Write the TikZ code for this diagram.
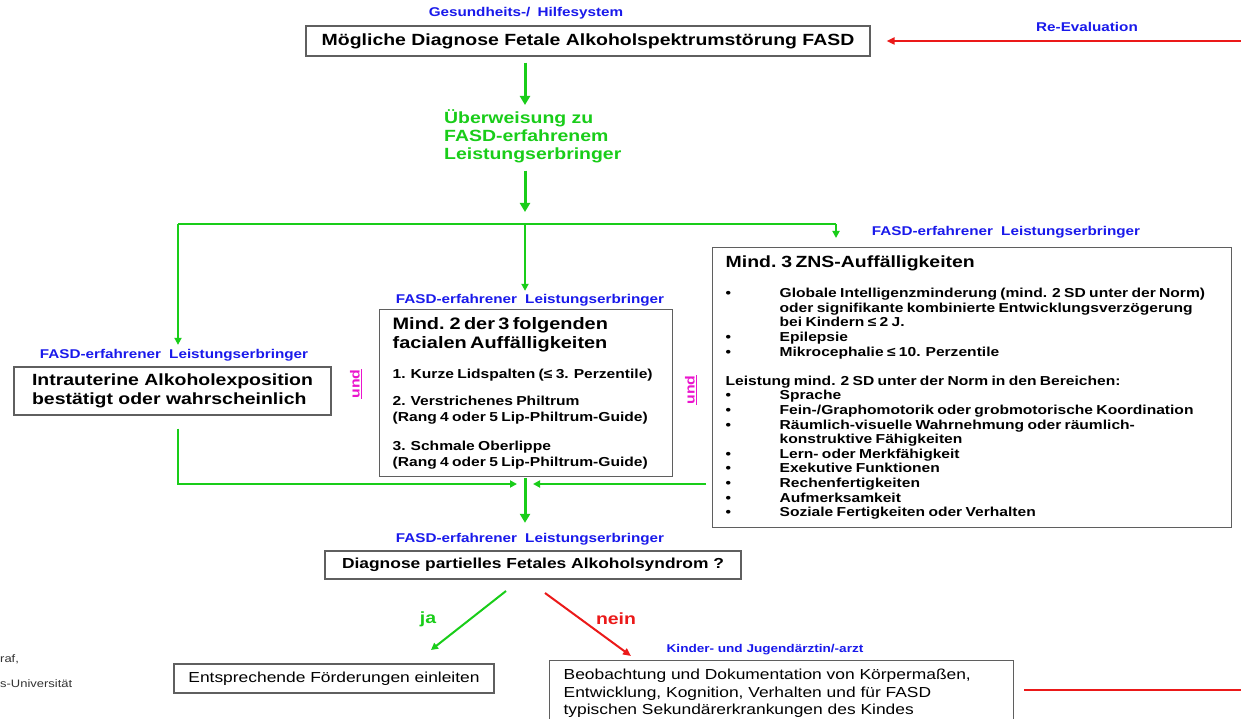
\documentclass[tikz,border=0pt]{standalone}
\usepackage{fontspec}
\setmainfont{Liberation Sans}[FakeStretch=1.2]
\usetikzlibrary{arrows.meta,calc}
\setlength\parindent{0pt}
\setlength\parskip{0pt}
\definecolor{lblue}{RGB}{25,25,235}
\definecolor{lgreen}{RGB}{25,205,25}
\definecolor{lred}{RGB}{235,25,25}
\definecolor{lmag}{RGB}{235,20,205}
\definecolor{lgray}{RGB}{95,95,95}
\newcommand\fsz[2]{\fontsize{#1}{#2}\selectfont}
\newcommand\bul{\makebox[54pt][l]{\textbullet}}
\newcommand\ind{\hspace*{54pt}}
\begin{document}
\begin{tikzpicture}[x=1pt,y=-1pt,
  box/.style={draw=lgray, line width=1.3pt, fill=white, inner sep=0pt},
  blab/.style={text=lblue, inner sep=0pt, font=\fsz{12.7}{15}\bfseries},
  gtext/.style={text=lgreen, inner sep=0pt, font=\fsz{16.2}{18}\bfseries},
  garrowT/.style={draw=lgreen, line width=3pt, -{Triangle[length=9pt,width=10pt]}},
  garrow/.style={draw=lgreen, line width=2pt, -{Triangle[length=7pt,width=7pt]}},
  gline/.style={draw=lgreen, line width=2pt},
  rarrow/.style={draw=lred, line width=2pt, -{Triangle[length=8pt,width=7pt]}},
  rline/.style={draw=lred, line width=2pt},
  undlab/.style={text=lmag, inner sep=0pt, rotate=90, font=\fsz{13.2}{15}\bfseries}]
\clip (0,0) rectangle (1241,719);
\fill[white] (0,0) rectangle (1241,719);

% axis coordinates
\coordinate (cx) at (525,0);
\coordinate (split) at (525,224);
\coordinate (bl) at (178,224);
\coordinate (br) at (836,224);
\coordinate (mj) at (525,484);

% top
\node[blab] (lgs) at (526,13) {Gesundheits-/\hspace{3pt} Hilfesystem};
\node[box, minimum width=564pt, minimum height=30pt, font=\fsz{16.2}{19}\bfseries] (top) at (588,41)
  {Mögliche Diagnose Fetale Alkoholspektrumstörung FASD};
\node[blab] (lre) at (1087,27) {Re-Evaluation};
\coordinate (reR) at (1241,41);
\draw[rarrow] (reR) -- ([xshift=16pt]top.east);

\node[gtext, anchor=north west, align=left] (ueb) at (444,109)
  {Überweisung zu\\FASD-erfahrenem\\Leistungserbringer};
\draw[garrowT] ([yshift=-6pt]top.south -| cx) -- ([yshift=4pt]ueb.north -| cx);
\draw[garrowT] ([yshift=-8pt]ueb.south -| cx) -- ([yshift=12pt]split);

% branches
\node[blab] (lright) at (1006,232) {FASD-erfahrener\hspace{4pt} Leistungserbringer};
\node[blab] (lmid) at (530,300) {FASD-erfahrener\hspace{4pt} Leistungserbringer};
\node[blab] (lleft) at (174,355) {FASD-erfahrener\hspace{4pt} Leistungserbringer};

\node[box, anchor=north west, minimum width=519pt, minimum height=280pt,
      text width=493pt, inner xsep=13pt, align=left] (rbox) at (712,247) {%
{\fsz{16.2}{19}\bfseries Mind. 3 ZNS-Auffälligkeiten\par}
\vspace{15.4pt}
{\fsz{13}{14.6}\bfseries
\bul Globale Intelligenzminderung (mind. 2 SD unter der Norm)\par
\ind oder signifikante kombinierte Entwicklungsverzögerung\par
\ind bei Kindern ≤ 2 J.\par
\bul Epilepsie\par
\bul Mikrocephalie ≤ 10. Perzentile\par
\vspace{14.6pt}
Leistung mind. 2 SD unter der Norm in den Bereichen:\par
\bul Sprache\par
\bul Fein-/Graphomotorik oder grobmotorische Koordination\par
\bul Räumlich-visuelle Wahrnehmung oder räumlich-\par
\ind konstruktive Fähigkeiten\par
\bul Lern- oder Merkfähigkeit\par
\bul Exekutive Funktionen\par
\bul Rechenfertigkeiten\par
\bul Aufmerksamkeit\par
\bul Soziale Fertigkeiten oder Verhalten\par}};

\node[box, anchor=north west, minimum width=293pt, minimum height=167pt,
      text width=267pt, inner xsep=13pt, align=left] (mbox) at (379,309) {%
{\fsz{16.6}{19}\bfseries Mind. 2 der 3 folgenden\par facialen Auffälligkeiten\par}
\vspace{14pt}
{\fsz{13}{16}\bfseries 1. Kurze Lidspalten (≤ 3. Perzentile)\par}
\vspace{11pt}
{\fsz{13}{16}\bfseries 2. Verstrichenes Philtrum\par (Rang 4 oder 5 Lip-Philtrum-Guide)\par}
\vspace{13pt}
{\fsz{13}{16}\bfseries 3. Schmale Oberlippe\par (Rang 4 oder 5 Lip-Philtrum-Guide)\par}};

\node[box, minimum width=317pt, minimum height=48pt, align=left, font=\fsz{16.2}{19}\bfseries] (lbox) at (172.5,391)
  {Intrauterine Alkoholexposition\\bestätigt oder wahrscheinlich};

\node[undlab] (und1) at (356,384) {\underline{und}};
\node[undlab] (und2) at (691,390) {\underline{und}};

\draw[gline] (bl) -- (br);
\draw[garrow] (bl) -- ([yshift=4pt]lleft.north -| bl);
\draw[garrow] (split) -- ([yshift=3pt]lmid.north -| split);
\draw[garrow] (br) -- ([yshift=9pt]rbox.north -| br);

% merge
\draw[garrow] ([yshift=-13pt]lbox.south -| bl) |- ([xshift=-8pt]mj);
\draw[garrow] ([xshift=-6pt]rbox.west |- mj) -- ([xshift=8pt]mj);

\node[blab] (lbot) at (530,539) {FASD-erfahrener\hspace{4pt} Leistungserbringer};
\draw[garrowT] ([yshift=-1pt]mbox.south -| cx) -- ([yshift=10pt]lbot.north -| cx);

\node[box, minimum width=416pt, minimum height=28pt, font=\fsz{14.5}{17}\bfseries] (diag) at (533,565)
  {Diagnose partielles Fetales Alkoholsyndrom ?};

% ja / nein
\coordinate (jaS) at (506,591);
\coordinate (jaE) at (431,650);
\coordinate (neS) at (545,593);
\coordinate (neE) at (631,656);
\draw[garrow] (jaS) -- (jaE);
\draw[rarrow] (neS) -- (neE);
\node[text=lgreen, inner sep=0pt, font=\fsz{16.2}{18}\bfseries] (ja) at (428,619) {ja};
\node[text=lred, inner sep=0pt, font=\fsz{16.2}{18}\bfseries] (nein) at (616,619) {nein};

\node[blab, font=\fsz{11.3}{13}\bfseries] (lkj) at (765,650) {Kinder- und Jugendärztin/-arzt};

\node[box, minimum width=320pt, minimum height=29pt, font=\fsz{14.5}{17}] (foerd) at (334,678.5)
  {Entsprechende Förderungen einleiten};

\node[box, anchor=north west, minimum width=464pt, minimum height=66pt,
      text width=436pt, inner xsep=14pt, align=left, font=\fsz{14.5}{17.5}] (beob) at (549,660)
  {Beobachtung und Dokumentation von Körpermaßen,\\Entwicklung, Kognition, Verhalten und für FASD\\typischen Sekundärerkrankungen des Kindes};

\coordinate (rl) at (1241,690);
\draw[rline] ([xshift=10pt]beob.east |- rl) -- (rl);

% cut-off side text
\node[anchor=west, inner sep=0pt, text=black!80, font=\fsz{10.8}{13}] (side1) at (0,659) {raf,};
\node[anchor=west, inner sep=0pt, text=black!80, font=\fsz{10.8}{13}] (side2) at (0,684) {s-Universität};
\end{tikzpicture}
\end{document}
